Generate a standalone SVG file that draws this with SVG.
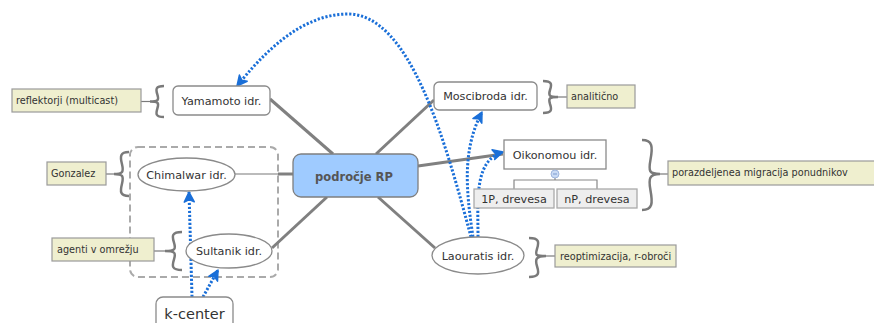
<svg xmlns="http://www.w3.org/2000/svg" width="874" height="323" viewBox="0 0 874 323">
<style>
  text { font-family: "DejaVu Sans", Verdana, sans-serif; fill: #333; }
  .node { fill: #fff; stroke: #8a8a8a; stroke-width: 1.3; }
  .lbl { fill: #efefcf; stroke: #9a9a9a; stroke-width: 1.2; }
  .lbltxt { font-size: 9.7px; }
  .ntxt { font-size: 11.2px; text-anchor: middle; }
  .sub { fill: #eeeeee; stroke: #aaaaaa; stroke-width: 1.3; }
  .brace { fill: none; stroke: #7a7a7a; stroke-width: 2.5; }
  .conn { fill: none; stroke: #808080; stroke-width: 3; }
  .rel { fill: none; stroke: #1a6fd8; stroke-width: 3; stroke-dasharray: 2.2 1.8; }
</style>
<defs>
  <marker id="ah" markerUnits="userSpaceOnUse" markerWidth="14" markerHeight="14" refX="10" refY="5" orient="auto" viewBox="-2 -2 14 14">
    <path d="M0,0 L10,5 L0,10 L2.5,5 Z" fill="#1a6fd8" stroke="#1a6fd8" stroke-width="1.5" stroke-linejoin="round"/>
  </marker>
</defs>

<!-- group boundary -->
<rect x="130" y="147" width="148" height="130" rx="8" fill="none" stroke="#aaaaaa" stroke-width="2" stroke-dasharray="7 4"/>

<g id="connectors">
  <line class="conn" x1="270" y1="99" x2="333" y2="154"/>
  <line class="conn" x1="376" y1="154" x2="434" y2="100"/>
  <line x1="235" y1="174" x2="278" y2="174" stroke="#bbbbbb" stroke-width="2"/>
  <line class="conn" x1="278" y1="174" x2="293" y2="174"/>
  <line class="conn" x1="272" y1="248" x2="327" y2="197"/>
  <line class="conn" x1="378" y1="197" x2="435" y2="248"/>
  <line class="conn" x1="418" y1="166" x2="503" y2="154"/>
  <!-- brace leaders -->
  <line x1="141" y1="101.5" x2="150" y2="101.5" stroke="#7a7a7a" stroke-width="1.2"/>
  <line x1="106" y1="174" x2="114" y2="174" stroke="#7a7a7a" stroke-width="1.2"/>
  <line x1="154" y1="251" x2="165" y2="251" stroke="#7a7a7a" stroke-width="1.2"/>
  <line x1="558" y1="97" x2="567" y2="97" stroke="#7a7a7a" stroke-width="1.2"/>
  <line x1="660" y1="174" x2="668" y2="174" stroke="#7a7a7a" stroke-width="1.2"/>
  <line x1="546" y1="256" x2="555" y2="256" stroke="#7a7a7a" stroke-width="1.2"/>
  <!-- braces -->
  <path class="brace" d="M164,86 C155.6,86 155.6,89.1 157.4,94.7 C159.1,100 158.4,101.5 150,101.5 C158.4,101.5 159.1,103 157.4,108.3 C155.6,113.9 155.6,117 164,117"/>
  <path class="brace" d="M129,152 C120,152 120,156.4 122,164.3 C123.8,171.8 123,174 114,174 C123,174 123.8,176.2 122,183.7 C120,191.6 120,196 129,196"/>
  <path class="brace" d="M182,232 C171.8,232 171.8,235.8 174,242.6 C176,249.1 175.2,251 165,251 C175.2,251 176,252.9 174,259.4 C171.8,266.2 171.8,270 182,270"/>
  <path class="brace" d="M543,81 C552,81 552,84.2 550,90 C548.3,95.4 549,97 558,97 C549,97 548.3,98.6 550,104 C552,109.8 552,113 543,113"/>
  <path class="brace" d="M642,140 C652.8,140 652.8,147 650.5,159.6 C648.3,171.5 649.2,174 660,174 C649.2,174 648.3,178.5 650.5,190.4 C652.8,203 652.8,210 642,210"/>
  <path class="brace" d="M529,238 C539.2,238 539.2,241.9 537,248.9 C535,255.6 535.8,256 546,256 C535.8,256 535,259.5 537,266.1 C539.2,273.1 539.2,277 529,277"/>
  <!-- tree lines under Oikonomou -->
  <path d="M555,178 V180 M514,189 V180 H597 V189" fill="none" stroke="#888888" stroke-width="1.2"/>
  <!-- relationships -->
  <path class="rel" marker-end="url(#ah)" d="M471,237 C445,140 410,14 348,14 C300,14 262,55 237,86"/>
  <path class="rel" marker-end="url(#ah)" d="M473,237 C466,190 462,150 482,112"/>
  <path class="rel" marker-end="url(#ah)" d="M478,237 C478,200 474,160 503,152"/>
  <path class="rel" marker-end="url(#ah)" d="M192,297 L189,192"/>
  <path class="rel" marker-end="url(#ah)" d="M203,297 L218,270"/>
</g>

<g id="central">
  <rect x="293" y="154" width="125" height="43" rx="8" fill="#9fcbff" stroke="#7f7f7f" stroke-width="1.3"/>
  <text x="354" y="181" font-size="11.5" font-weight="bold" text-anchor="middle" style="fill:#555">področje RP</text>
</g>

<g id="yamamoto">
  <rect class="node" x="173" y="86" width="97" height="29" rx="5"/>
  <text class="ntxt" x="221.5" y="104.5">Yamamoto idr.</text>
</g>
<g id="reflektorji">
  <rect class="lbl" x="12" y="89" width="129" height="23"/>
  <text class="lbltxt" x="16" y="104">reflektorji (multicast)</text>
</g>

<g id="chimalwar">
  <ellipse class="node" cx="186.5" cy="174.5" rx="48.5" ry="16.5"/>
  <text class="ntxt" x="186.5" y="178.5">Chimalwar idr.</text>
</g>
<g id="gonzalez">
  <rect class="lbl" x="47" y="162" width="59" height="23"/>
  <text class="lbltxt" x="51" y="177">Gonzalez</text>
</g>

<g id="sultanik">
  <ellipse class="node" cx="229" cy="251" rx="43" ry="17"/>
  <text class="ntxt" x="229" y="255">Sultanik idr.</text>
</g>
<g id="agenti">
  <rect class="lbl" x="52" y="238" width="102" height="23"/>
  <text class="lbltxt" x="57" y="253">agenti v omrežju</text>
</g>

<g id="kcenter">
  <rect class="node" x="156" y="297" width="77" height="36" rx="7"/>
  <text x="194.5" y="319" font-size="14.5" text-anchor="middle">k-center</text>
</g>

<g id="moscibroda">
  <rect class="node" x="434" y="82" width="103" height="28" rx="5"/>
  <text class="ntxt" x="485.5" y="100">Moscibroda idr.</text>
</g>
<g id="analiticno">
  <rect class="lbl" x="567" y="85" width="68" height="23"/>
  <text class="lbltxt" x="571" y="100">analitično</text>
</g>

<g id="oikonomou">
  <rect class="node" x="504" y="140" width="102" height="29"/>
  <text class="ntxt" x="555" y="159">Oikonomou idr.</text>
  <circle cx="555" cy="174" r="4" fill="#c9daf4" stroke="#9fb6de" stroke-width="1"/>
  <line x1="553" y1="174" x2="557" y2="174" stroke="#7d9bd0" stroke-width="1"/>
</g>
<g id="p1">
  <rect class="sub" x="474" y="189" width="80" height="19"/>
  <text class="ntxt" x="514" y="202.5">1P, drevesa</text>
</g>
<g id="pn">
  <rect class="sub" x="557" y="189" width="80" height="19"/>
  <text class="ntxt" x="597" y="202.5">nP, drevesa</text>
</g>
<g id="porazdeljenea">
  <rect class="lbl" x="668" y="161" width="207" height="24"/>
  <text class="lbltxt" x="672" y="176">porazdeljenea migracija ponudnikov</text>
</g>

<g id="laouratis">
  <ellipse class="node" cx="478" cy="255.5" rx="46" ry="18.5"/>
  <text class="ntxt" x="478" y="259.5">Laouratis idr.</text>
</g>
<g id="reoptimizacija">
  <rect class="lbl" x="555" y="245" width="121" height="22"/>
  <text class="lbltxt" x="560" y="259.5">reoptimizacija, r-obroči</text>
</g>
</svg>
